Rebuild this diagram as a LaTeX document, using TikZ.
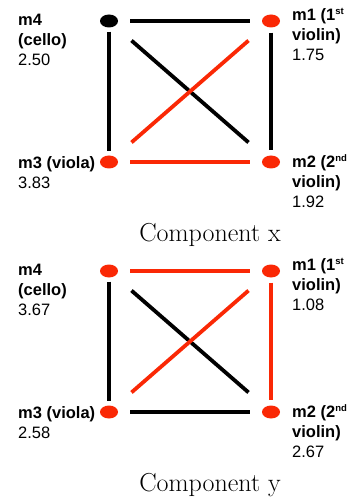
\documentclass[tikz,border=0pt]{standalone}
\usepackage{fontspec}
\newfontfamily\labelfont{Liberation Sans}
\usetikzlibrary{shapes.geometric}
\definecolor{notered}{RGB}{250,40,5}
\newcommand\ordsup[1]{\raisebox{0.75ex}{\fontsize{9.5}{9.5}\selectfont #1}}

\begin{document}
\begin{tikzpicture}[x=1pt, y=-1pt,
    dot/.style={ellipse, fill=#1, minimum width=18pt, minimum height=13pt, inner sep=0pt},
    lbl/.style={anchor=north west, inner sep=0pt, align=left, font=\labelfont\fontsize{16.5}{20}\selectfont},
    captext/.style={anchor=base, inner sep=0pt, font=\fontsize{26}{30}\selectfont},
    lnk/.style={line width=3.8pt, draw=#1},
    gap/.style={shorten <=#1, shorten >=#1}
]
\useasboundingbox (0,0) rectangle (352,502);

% Component x
\node[dot=black]   (m4x) at (109,21) {};
\node[dot=notered] (m1x) at (271,21) {};
\node[dot=notered] (m3x) at (109,162) {};
\node[dot=notered] (m2x) at (271,162) {};
\draw[lnk=black, gap=12pt] (m4x) -- (m1x);
\draw[lnk=black, gap=4pt] (m4x) -- (m3x);
\draw[lnk=black, gap=5pt] (m1x) -- (m2x);
\draw[lnk=notered, gap=12pt] (m3x) -- (m2x);
\draw[lnk=black, gap=22pt] (m4x) -- (m2x);
\draw[lnk=notered, gap=22pt] (m3x) -- (m1x);
\node[lbl] (t4x) at (18,14) {\textbf{m4}\\\textbf{(cello)}\\2.50};
\node[lbl] (t1x) at (292,8) {\textbf{m1 (1\ordsup{st}}\\\textbf{violin)}\\1.75};
\node[lbl] (t3x) at (18,156) {\textbf{m3 (viola)}\\3.83};
\node[lbl] (t2x) at (292,154) {\textbf{m2 (2\ordsup{nd}}\\\textbf{violin)}\\1.92};
\node[captext] (capx) at (210,241) {Component x};

% Component y
\begin{scope}[shift={(0,250)}]
\node[dot=notered] (m4y) at (109,21) {};
\node[dot=notered] (m1y) at (271,21) {};
\node[dot=notered] (m3y) at (109,162) {};
\node[dot=notered] (m2y) at (271,162) {};
\draw[lnk=notered, gap=12pt] (m4y) -- (m1y);
\draw[lnk=black, gap=4pt] (m4y) -- (m3y);
\draw[lnk=notered, gap=5pt] (m1y) -- (m2y);
\draw[lnk=black, gap=12pt] (m3y) -- (m2y);
\draw[lnk=black, gap=22pt] (m4y) -- (m2y);
\draw[lnk=notered, gap=22pt] (m3y) -- (m1y);
\node[lbl] (t4y) at (18,14) {\textbf{m4}\\\textbf{(cello)}\\3.67};
\node[lbl] (t1y) at (292,8) {\textbf{m1 (1\ordsup{st}}\\\textbf{violin)}\\1.08};
\node[lbl] (t3y) at (18,156) {\textbf{m3 (viola)}\\2.58};
\node[lbl] (t2y) at (292,154) {\textbf{m2 (2\ordsup{nd}}\\\textbf{violin)}\\2.67};
\node[captext] (capy) at (210,241) {Component y};
\end{scope}
\end{tikzpicture}
\end{document}
